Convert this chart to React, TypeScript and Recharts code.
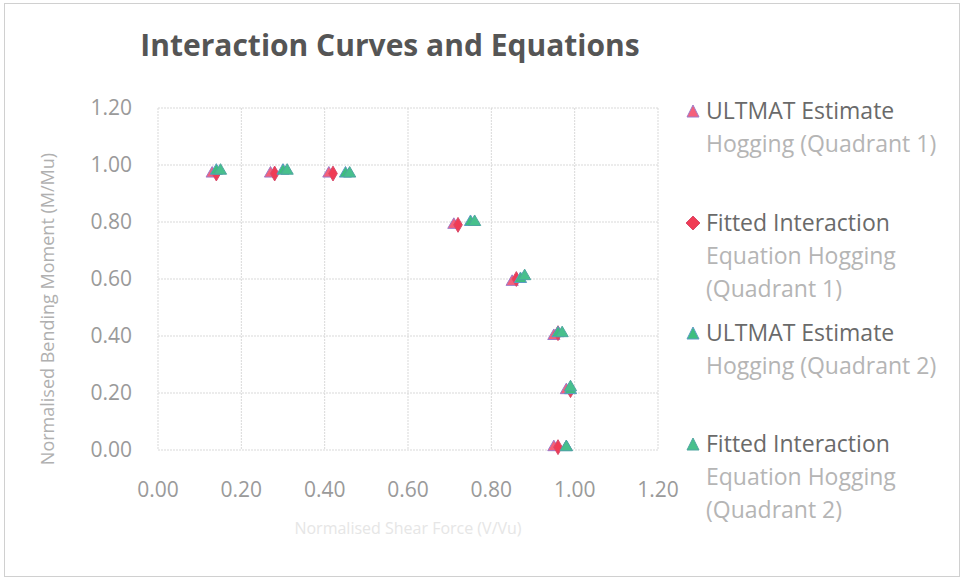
import { ScatterChart, Scatter, XAxis, YAxis, ZAxis, CartesianGrid } from 'recharts';

const xTicks = [0, 0.2, 0.4, 0.6, 0.8, 1.0, 1.2];
const yTicks = [0, 0.2, 0.4, 0.6, 0.8, 1.0, 1.2];

const ultQ1X = [0.13, 0.27, 0.41, 0.71, 0.85, 0.95, 0.98, 0.95];
const ultQ1Y = [0.97, 0.97, 0.97, 0.79, 0.59, 0.4, 0.21, 0.01];
const fitQ1X = [0.14, 0.28, 0.42, 0.72, 0.86, 0.96, 0.99, 0.96];
const fitQ1Y = [0.97, 0.97, 0.97, 0.79, 0.6, 0.41, 0.21, 0.01];
const ultQ2X = [0.14, 0.3, 0.45, 0.75, 0.87, 0.96, 0.99, 0.98];
const ultQ2Y = [0.98, 0.98, 0.97, 0.8, 0.6, 0.41, 0.21, 0.01];
const fitQ2X = [0.15, 0.31, 0.46, 0.76, 0.88, 0.97, 0.99, 0.98];
const fitQ2Y = [0.98, 0.98, 0.97, 0.8, 0.61, 0.41, 0.22, 0.01];

const toPts = (xs: number[], ys: number[]) => xs.map((x, i) => ({ x, y: ys[i] }));

const series = [
  { name: ['ULTMAT Estimate', 'Hogging (Quadrant 1)'], data: toPts(ultQ1X, ultQ1Y), fill: '#F4607A', stroke: '#9E7BC9', shape: 'triangle' },
  { name: ['Fitted Interaction', 'Equation Hogging', '(Quadrant 1)'], data: toPts(fitQ1X, fitQ1Y), fill: '#F03C55', stroke: '#D84B6B', shape: 'diamond' },
  { name: ['ULTMAT Estimate', 'Hogging (Quadrant 2)'], data: toPts(ultQ2X, ultQ2Y), fill: '#3DBE7E', stroke: '#5C9AC4', shape: 'triangle' },
  { name: ['Fitted Interaction', 'Equation Hogging', '(Quadrant 2)'], data: toPts(fitQ2X, fitQ2Y), fill: '#47C08C', stroke: '#4FA5A0', shape: 'triangle' },
];

const legendTops = [94, 206, 316, 427];

const fmt = (v: number) => v.toFixed(2);

export default function App() {
  return (
    <div style={{ position: 'absolute', left: 0, top: 0, width: 964, height: 581, background: '#fff', fontFamily: '"Open Sans", sans-serif' }}>
      <div style={{ position: 'absolute', left: 4, top: 3, width: 954, height: 572, border: '1px solid #d0d0d0' }} />
      <div style={{ position: 'absolute', left: 0, top: 24, width: 780, textAlign: 'center', fontSize: 30, fontWeight: 'bold', color: '#555' }}>
        Interaction Curves and Equations
      </div>
      <ScatterChart width={964} height={581} margin={{ top: 108, right: 306, bottom: 91, left: 38 }}>
        <CartesianGrid stroke="#d9d9d9" strokeDasharray="2 1" />
        <XAxis
          type="number"
          dataKey="x"
          domain={[0, 1.2]}
          ticks={xTicks}
          tickFormatter={fmt}
          axisLine={false}
          tickLine={false}
          tick={{ fill: '#9a9a9a', fontSize: 21 }}
          height={40}
          dy={24}
          label={{ value: 'Normalised Shear Force (V/Vu)', position: 'insideBottom', offset: -44, fill: '#e6e6e6', fontSize: 16 }}
        />
        <YAxis
          type="number"
          dataKey="y"
          domain={[0, 1.2]}
          ticks={yTicks}
          tickFormatter={fmt}
          axisLine={false}
          tickLine={false}
          tick={{ fill: '#9a9a9a', fontSize: 21 }}
          width={120}
          dx={-18}
          label={{ value: 'Normalised Bending Moment (M/Mu)', angle: -90, position: 'insideLeft', offset: 10, fill: '#b0b0b0', fontSize: 18, textAnchor: 'middle', dy: 30 }}
        />
        <ZAxis range={[110, 110]} />
        {series.map((s) => (
          <Scatter
            key={s.name.join(' ') + s.fill}
            name={s.name.join(' ')}
            data={s.data}
            fill={s.fill}
            stroke={s.stroke}
            strokeWidth={1}
            shape={s.shape as 'triangle'}
            isAnimationActive={false}
          />
        ))}
      </ScatterChart>
      {series.map((s, i) => (
        <div key={i} style={{ position: 'absolute', left: 684, top: legendTops[i], fontSize: 23, lineHeight: '33px' }}>
          {s.name.map((line, j) => (
            <div key={j} style={{ paddingLeft: 22, position: 'relative', color: j === 0 ? '#6a6a6a' : '#b5b5b5' }}>
              {j === 0 && (
                <svg width={14} height={14} style={{ position: 'absolute', left: 2, top: 10 }}>
                  {s.shape === 'diamond' ? (
                    <polygon points="7,0 14,7 7,14 0,7" fill={s.fill} stroke={s.stroke} />
                  ) : (
                    <polygon points="7,1 13,13 1,13" fill={s.fill} stroke={s.stroke} />
                  )}
                </svg>
              )}
              {line}
            </div>
          ))}
        </div>
      ))}
    </div>
  );
}
